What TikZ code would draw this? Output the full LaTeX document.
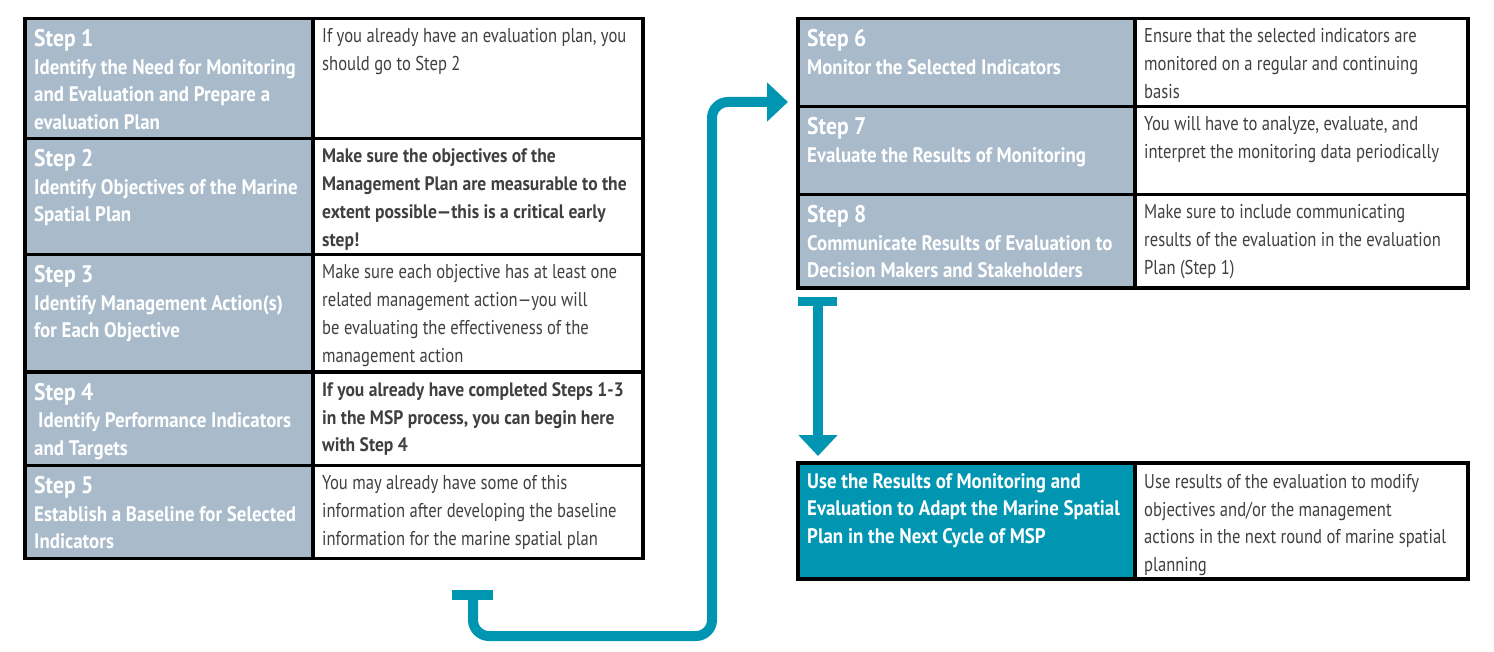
\documentclass[tikz,border=0pt]{standalone}
\usepackage{fontspec}
\setmainfont[FakeStretch=0.83, BoldFeatures={FakeStretch=0.9}]{PT Sans}
\usetikzlibrary{arrows.meta}
\definecolor{cellgray}{HTML}{A9BBCB}
\definecolor{mspteal}{HTML}{0096B2}
\definecolor{txtgray}{HTML}{404040}
\newcommand{\fl}{\rule{0pt}{20pt}}
\tikzset{
  cellbox/.style={draw=black, line width=3.5pt, anchor=north west, inner sep=0pt, outer sep=0pt},
  headtxt/.style={anchor=north west, inner sep=0pt, align=left, text=white, font=\bfseries\fontsize{21}{27.6}\selectfont},
  desctxt/.style={anchor=north west, inner sep=0pt, align=left, text=txtgray, font=\fontsize{20}{27.8}\selectfont},
  boldtxt/.style={desctxt, font=\bfseries\fontsize{19.5}{27.8}\selectfont},
  arrowline/.style={draw=mspteal, line width=10pt},
}
\newcommand{\stp}[1]{{\fontsize{24}{27.6}\selectfont\fl Step #1}}
\begin{document}
\begin{tikzpicture}[x=1pt,y=-1pt]
\useasboundingbox (0,0) rectangle (1494,652);
% ---- left table
\node[cellbox, fill=cellgray, minimum width=288pt, minimum height=120pt] (c1l) at (25,18.5) {};
\node[cellbox, fill=white, minimum width=330pt, minimum height=120pt] (c1r) at (313,18.5) {};
\node[cellbox, fill=cellgray, minimum width=288pt, minimum height=116pt] (c2l) at (25,138.5) {};
\node[cellbox, fill=white, minimum width=330pt, minimum height=116pt] (c2r) at (313,138.5) {};
\node[cellbox, fill=cellgray, minimum width=288pt, minimum height=117.5pt] (c3l) at (25,254.5) {};
\node[cellbox, fill=white, minimum width=330pt, minimum height=117.5pt] (c3r) at (313,254.5) {};
\node[cellbox, fill=cellgray, minimum width=288pt, minimum height=93.5pt] (c4l) at (25,372) {};
\node[cellbox, fill=white, minimum width=330pt, minimum height=93.5pt] (c4r) at (313,372) {};
\node[cellbox, fill=cellgray, minimum width=288pt, minimum height=93pt] (c5l) at (25,465.5) {};
\node[cellbox, fill=white, minimum width=330pt, minimum height=93pt] (c5r) at (313,465.5) {};
% ---- right table
\node[cellbox, fill=cellgray, minimum width=337pt, minimum height=88pt] (c6l) at (798,18.5) {};
\node[cellbox, fill=white, minimum width=333pt, minimum height=88pt] (c6r) at (1135,18.5) {};
\node[cellbox, fill=cellgray, minimum width=337pt, minimum height=88pt] (c7l) at (798,106.5) {};
\node[cellbox, fill=white, minimum width=333pt, minimum height=88pt] (c7r) at (1135,106.5) {};
\node[cellbox, fill=cellgray, minimum width=337pt, minimum height=93.5pt] (c8l) at (798,194.5) {};
\node[cellbox, fill=white, minimum width=333pt, minimum height=93.5pt] (c8r) at (1135,194.5) {};
% ---- bottom table
\node[cellbox, fill=mspteal, minimum width=337pt, minimum height=116pt] (c9l) at (798,463) {};
\node[cellbox, fill=white, minimum width=333pt, minimum height=116pt] (c9r) at (1135,463) {};
% ---- texts
\node[headtxt] (h1) at ([xshift=9pt,yshift=-8pt]c1l.north west) {\stp{1}\\Identify the Need for Monitoring\\and Evaluation and Prepare a\\evaluation Plan};
\node[desctxt] (d1) at ([xshift=9pt,yshift=-4pt]c1r.north west) {\fl If you already have an evaluation plan, you\\should go to Step 2};
\node[headtxt] (h2) at ([xshift=9pt,yshift=-8pt]c2l.north west) {\stp{2}\\Identify Objectives of the Marine\\Spatial Plan};
\node[boldtxt] (d2) at ([xshift=9pt,yshift=-4pt]c2r.north west) {\fl Make sure the objectives of the\\Management Plan are measurable to the\\extent possible—this is a critical early\\step!};
\node[headtxt] (h3) at ([xshift=9pt,yshift=-8pt]c3l.north west) {\stp{3}\\Identify Management Action(s)\\for Each Objective};
\node[desctxt] (d3) at ([xshift=9pt,yshift=-4pt]c3r.north west) {\fl Make sure each objective has at least one\\related management action—you will\\be evaluating the effectiveness of the\\management action};
\node[headtxt] (h4) at ([xshift=9pt,yshift=-8pt]c4l.north west) {\stp{4}\\\hspace*{4pt}Identify Performance Indicators\\and Targets};
\node[boldtxt] (d4) at ([xshift=9pt,yshift=-4pt]c4r.north west) {\fl If you already have completed Steps 1-3\\in the MSP process, you can begin here\\with Step 4};
\node[headtxt] (h5) at ([xshift=9pt,yshift=-8pt]c5l.north west) {\stp{5}\\Establish a Baseline for Selected\\Indicators};
\node[desctxt] (d5) at ([xshift=9pt,yshift=-4pt]c5r.north west) {\fl You may already have some of this\\information after developing the baseline\\information for the marine spatial plan};
\node[headtxt] (h6) at ([xshift=9pt,yshift=-8pt]c6l.north west) {\stp{6}\\Monitor the Selected Indicators};
\node[desctxt] (d6) at ([xshift=9pt,yshift=-4pt]c6r.north west) {\fl Ensure that the selected indicators are\\monitored on a regular and continuing\\basis};
\node[headtxt] (h7) at ([xshift=9pt,yshift=-8pt]c7l.north west) {\stp{7}\\Evaluate the Results of Monitoring};
\node[desctxt] (d7) at ([xshift=9pt,yshift=-4pt]c7r.north west) {\fl You will have to analyze, evaluate, and\\interpret the monitoring data periodically};
\node[headtxt] (h8) at ([xshift=9pt,yshift=-8pt]c8l.north west) {\stp{8}\\Communicate Results of Evaluation to\\Decision Makers and Stakeholders};
\node[desctxt] (d8) at ([xshift=9pt,yshift=-4pt]c8r.north west) {\fl Make sure to include communicating\\results of the evaluation in the evaluation\\Plan (Step 1)};
\node[headtxt] (h9) at ([xshift=9pt,yshift=-5pt]c9l.north west) {\fl Use the Results of Monitoring and\\Evaluation to Adapt the Marine Spatial\\Plan in the Next Cycle of MSP};
\node[desctxt] (d9) at ([xshift=9pt,yshift=-5pt]c9r.north west) {\fl Use results of the evaluation to modify\\objectives and/or the management\\actions in the next round of marine spatial\\planning};
% ---- connectors
\coordinate (a1) at (473,596);
\coordinate (a2) at (788,102);
\coordinate (b1) at (818,302);
\coordinate (b2) at (818,456);
\fill[mspteal] (452,590) rectangle (493,600);
\draw[arrowline, rounded corners=16pt, -{Triangle[length=21pt,width=38pt]}] (a1) -- (473,636) -- (712,636) -- (712,102) -- (a2);
\fill[mspteal] (798,297) rectangle (837,306);
\draw[arrowline, -{Triangle[length=21pt,width=38pt]}] (b1) -- (b2);
\end{tikzpicture}
\end{document}
